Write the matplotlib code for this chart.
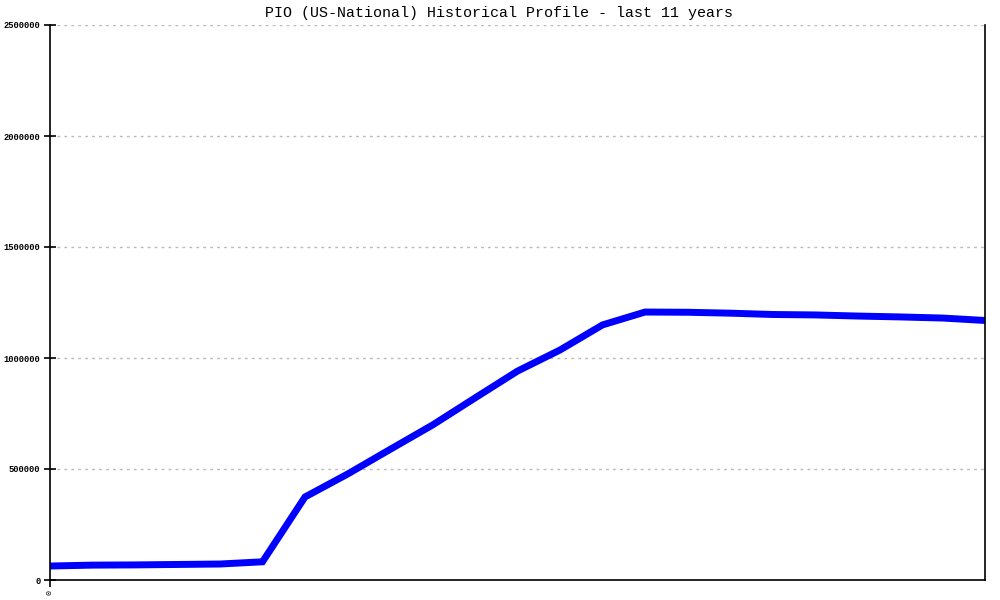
import matplotlib
matplotlib.use('Agg')
import matplotlib.pyplot as plt

# data (one point per step, 23 points)
title = 'PIO (US-National) Historical Profile - last 11 years'
values = [63000, 67000, 68000, 70000, 72000, 82000, 374000, 477000, 588000,
          698000, 820000, 941000, 1036000, 1149000, 1207000, 1206000, 1202000,
          1196000, 1194000, 1189000, 1185000, 1180000, 1169000]
yticks = [0, 500000, 1000000, 1500000, 2000000, 2500000]
xticks = [0]

plt.rcParams['font.family'] = ['Liberation Mono', 'DejaVu Sans Mono']

fig = plt.figure(figsize=(10, 6), dpi=100)
ax = fig.add_axes([0.05, 20/600, 0.935, 555/600])

x = list(range(len(values)))
ax.plot(x, values, '-', color='#0000ff', linewidth=5, solid_capstyle='butt',
        solid_joinstyle='miter')

ax.set_xlim(0, len(values) - 1)
ax.set_ylim(0, 2500000)
ax.set_yticks(yticks)
ax.set_yticklabels([str(v) for v in yticks], fontsize=6.3, fontweight='bold')
ax.set_xticks(xticks)
ax.set_xticklabels([str(v) for v in xticks], fontsize=6, rotation=90)

ax.grid(axis='y', color='#bbbbbb', linestyle=(0, (2, 3)), linewidth=1)
ax.set_axisbelow(True)

ax.spines['top'].set_visible(False)
for s in ['left', 'bottom', 'right']:
    ax.spines[s].set_color('black')
    ax.spines[s].set_linewidth(1.2)

ax.tick_params(axis='y', direction='inout', length=8, width=1.2, pad=3)
ax.tick_params(axis='x', direction='out', length=5, width=1.2, pad=2)

# title is centred on the figure, not on the axes
fig.text(0.499, 1 - 13/600, title, fontsize=10.8, ha='center', va='center')

plt.savefig('out.png', dpi=100)
plt.close()
